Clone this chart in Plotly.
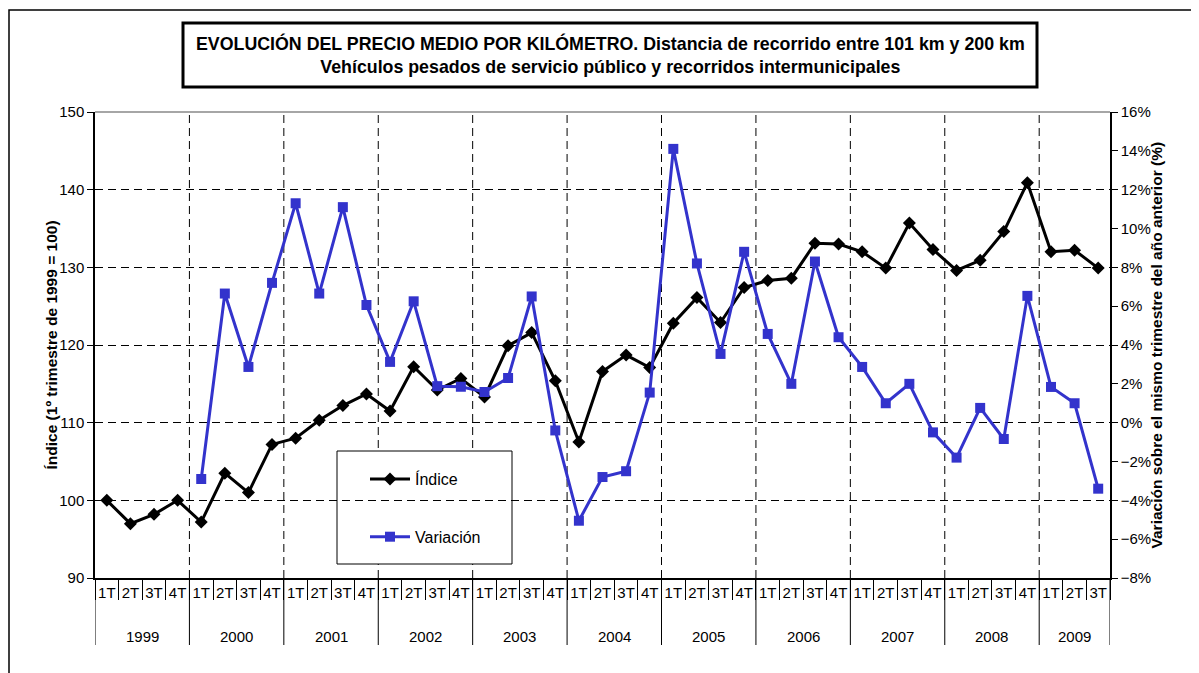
import plotly.graph_objects as go

years = ["1999", "2000", "2001", "2002", "2003", "2004", "2005", "2006", "2007", "2008", "2009"]
quarters = ["1T", "2T", "3T", "4T"]
quarter_labels = [q for y in years for q in quarters][:43]

indice = [100, 97.0, 98.2, 100,
          97.2, 103.5, 101.0, 107.2,
          108.0, 110.3, 112.2, 113.7,
          111.5, 117.2, 114.2, 115.7,
          113.3, 119.9, 121.6, 115.4,
          107.5, 116.6, 118.7, 117.1,
          122.8, 126.1, 122.9, 127.4,
          128.3, 128.6, 133.1, 133.0,
          132.0, 129.9, 135.7, 132.3,
          129.6, 130.9, 134.6, 140.9,
          132.0, 132.2, 129.9]

variacion = [None, None, None, None,
             -2.9, 6.65, 2.87, 7.2,
             11.3, 6.65, 11.1, 6.06,
             3.13, 6.25, 1.88, 1.85,
             1.58, 2.3, 6.5, -0.4,
             -5.05, -2.8, -2.5, 1.55,
             14.1, 8.2, 3.54, 8.8,
             4.57, 2.0, 8.3, 4.4,
             2.87, 1.0, 2.0, -0.5,
             -1.8, 0.76, -0.84, 6.53,
             1.84, 1.0, -3.4]

x = list(range(len(quarter_labels)))
var_frac = [None if v is None else v / 100 for v in variacion]

FONT = "Liberation Sans, Arial, sans-serif"
BLUE = "#3333CC"

# page is offset by the 8px body margin; geometry below is in figure pixels
W, H = 1191, 665
PL, PR, PT, PB = 87, 1102, 104, 570   # plot area edges in figure px
PW, PH = PR - PL, PB - PT


def px(xp):
    return (xp - 8 - PL) / PW


def py(yp):
    return (PB - (yp - 8)) / PH


fig = go.Figure()
fig.add_trace(go.Scatter(
    x=x, y=indice, name="Índice", mode="lines+markers",
    line=dict(color="black", width=3),
    marker=dict(symbol="diamond", size=10, color="black"),
    legendgroup="a"))
fig.add_trace(go.Scatter(
    x=x, y=var_frac, name="Variación", mode="lines+markers", yaxis="y2",
    line=dict(color=BLUE, width=3),
    marker=dict(symbol="square", size=10, color=BLUE),
    legendgroup="b"))

n = len(x)
shapes = []
for b in range(4, n, 4):
    shapes.append(dict(type="line", xref="x", yref="paper", x0=b - 0.5, x1=b - 0.5,
                       y0=0, y1=1, layer="below",
                       line=dict(color="black", width=1, dash="8px,5px")))
for b in list(range(0, n, 4)) + [n]:
    shapes.append(dict(type="line", xref="x", yref="paper", x0=b - 0.5, x1=b - 0.5,
                       y0=0, y1=py(645), line=dict(color="black", width=1)))
shapes.append(dict(type="line", xref="paper", yref="paper", x0=0, x1=1, y0=1, y1=1,
                   line=dict(color="#888888", width=1.5)))
shapes.append(dict(type="rect", xref="paper", yref="paper",
                   x0=px(337), x1=px(512), y0=py(564), y1=py(451),
                   line=dict(color="black", width=1), fillcolor="white", layer="below"))
shapes.append(dict(type="rect", xref="paper", yref="paper",
                   x0=px(183), x1=px(1037), y0=py(87), y1=py(23),
                   line=dict(color="black", width=3), fillcolor="white"))
shapes.append(dict(type="rect", xref="paper", yref="paper",
                   x0=(1 - PL) / PW, x1=(1300 - PL) / PW,
                   y0=(PB - 760) / PH, y1=(PB - 2) / PH,
                   line=dict(color="black", width=1.5)))

annotations = []
for k, yr in enumerate(years):
    idxs = list(range(4 * k, min(4 * k + 4, n)))
    cx = (idxs[0] + idxs[-1]) / 2
    annotations.append(dict(x=cx, y=py(636), xref="x", yref="paper",
                            text=yr, showarrow=False, yanchor="middle",
                            font=dict(family=FONT, size=15, color="black")))
annotations.append(dict(
    x=px(610), y=py(55), xref="paper", yref="paper",
    text="<b>EVOLUCIÓN DEL PRECIO MEDIO POR KILÓMETRO. Distancia de recorrido entre 101 km y 200 km</b><br><b>Vehículos pesados de servicio público y recorridos intermunicipales</b>",
    showarrow=False, align="center", yanchor="middle",
    font=dict(family=FONT, size=17.8, color="black")))
annotations.append(dict(
    x=px(40), y=0.5, xref="paper", yref="paper", textangle=-90,
    text="<b>Índice (1º trimestre de 1999 = 100)</b>", showarrow=False,
    font=dict(family=FONT, size=15.5, color="black")))
annotations.append(dict(
    x=px(1166), y=0.5, xref="paper", yref="paper", textangle=-90,
    text="<b>Variación sobre el mismo trimestre del año anterior (%)</b>", showarrow=False,
    font=dict(family=FONT, size=15.5, color="black")))

fig.update_layout(
    width=W, height=H,
    margin=dict(l=PL, r=W - PR, t=PT, b=H - PB),
    paper_bgcolor="white", plot_bgcolor="white",
    font=dict(family=FONT, size=15, color="black"),
    showlegend=True,
    legend=dict(x=px(365), y=py(462), xanchor="left", yanchor="top",
                bgcolor="rgba(0,0,0,0)", borderwidth=0, tracegroupgap=34,
                itemwidth=40, font=dict(family=FONT, size=16, color="black")),
    xaxis=dict(range=[-0.5, n - 0.5], tickmode="array", tickvals=x, ticktext=quarter_labels,
               ticks="", showgrid=False, zeroline=False, showline=True,
               linecolor="black", linewidth=1.5,
               tickfont=dict(family=FONT, size=15, color="black"),
               minor=dict(tickmode="array", tickvals=[i - 0.5 for i in range(n + 1)],
                          ticks="outside", ticklen=20, tickcolor="black", tickwidth=1,
                          showgrid=False)),
    yaxis=dict(range=[90, 150], dtick=10, tick0=90, ticks="outside", ticklen=6,
               tickcolor="black", showline=True, linecolor="black", linewidth=1.5,
               showgrid=True, gridcolor="black", gridwidth=1, griddash="8px,5px",
               zeroline=False, tickfont=dict(family=FONT, size=15, color="black")),
    yaxis2=dict(range=[-0.08, 0.16], dtick=0.02, tick0=-0.08, tickformat=".0%",
                overlaying="y", side="right", ticks="outside", ticklen=6,
                tickcolor="black", showline=True, linecolor="black", linewidth=1.5,
                showgrid=False, zeroline=False,
                tickfont=dict(family=FONT, size=15, color="black")),
    shapes=shapes, annotations=annotations,
)

fig.write_html("out.html")
